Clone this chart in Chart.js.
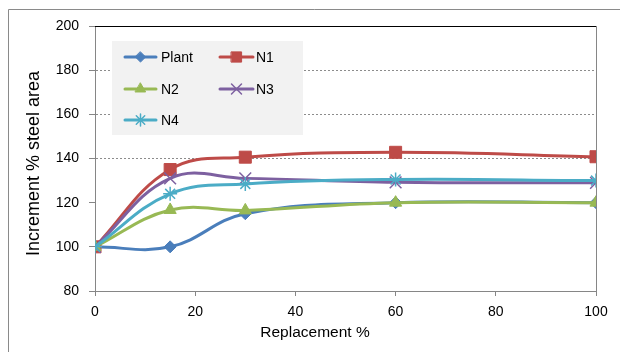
<!DOCTYPE html>
<html>
<head>
<meta charset="utf-8">
<script src="https://cdn.jsdelivr.net/npm/chart.js@4/dist/chart.umd.min.js"></script>
<style>
  html, body { margin: 0; padding: 0; background: #fff; }
  #wrap { position: relative; width: 620px; height: 352px; }
</style>
</head>
<body>
<div id="wrap"><canvas id="c" width="620" height="352"></canvas></div>
<script>
// Replacement level (%) on the x axis
const replacement = [0, 15, 30, 60, 100];

// Increment in steel area (%) for each mix
const plant = [100, 100, 115, 120, 120];
const n1 = [100, 135, 140.6, 142.8, 140.8];
const n2 = [100, 116.7, 116.5, 120, 120];
const n3 = [100, 131, 131, 129.2, 129];
const n4 = [100, 124, 128.5, 130.5, 130];

const seriesNames = ['Plant', 'N1', 'N2', 'N3', 'N4'];
const seriesValues = [plant, n1, n2, n3, n4];

const xTicks = [0, 20, 40, 60, 80, 100];
const yTicks = [80, 100, 120, 140, 160, 180, 200];
const xTitle = 'Replacement %';
const yTitle = 'Increment % steel area';

const FONT = '"Liberation Sans", Arial, sans-serif';
const AXIS_GREY = '#868686';

const styles = [
  { color: '#4a7ebb', point: 'rectRot', radius: 6, pbw: 1 },
  { color: '#be4b48', point: 'rect', radius: 8.5, pbw: 1 },
  { color: '#98b954', point: 'triangle', radius: 7, pbw: 1 },
  { color: '#7d60a0', point: 'crossRot', radius: 8.3, pbw: 1.5 },
  { color: '#4bacc6', point: 'star', radius: 7, pbw: 1.5 }
];

function drawMarker(ctx, style, r, x, y, color, bw) {
  ctx.save();
  ctx.fillStyle = color;
  ctx.strokeStyle = color;
  ctx.lineWidth = bw;
  ctx.beginPath();
  if (style === 'rectRot') {
    ctx.moveTo(x, y - r); ctx.lineTo(x + r, y); ctx.lineTo(x, y + r); ctx.lineTo(x - r, y);
    ctx.closePath(); ctx.fill(); ctx.stroke();
  } else if (style === 'rect') {
    const s = Math.SQRT1_2 * r;
    ctx.rect(x - s, y - s, 2 * s, 2 * s); ctx.fill(); ctx.stroke();
  } else if (style === 'triangle') {
    let a = 0;
    for (let i = 0; i < 3; i++) {
      const px = x + Math.sin(a) * r, py = y - Math.cos(a) * r;
      if (i === 0) ctx.moveTo(px, py); else ctx.lineTo(px, py);
      a += Math.PI * 2 / 3;
    }
    ctx.closePath(); ctx.fill(); ctx.stroke();
  } else {
    const d = Math.SQRT1_2 * r;
    ctx.moveTo(x - d, y - d); ctx.lineTo(x + d, y + d);
    ctx.moveTo(x - d, y + d); ctx.lineTo(x + d, y - d);
    if (style === 'star') {
      ctx.moveTo(x, y - r); ctx.lineTo(x, y + r);
      ctx.moveTo(x - r, y); ctx.lineTo(x + r, y);
    }
    ctx.stroke();
  }
  ctx.restore();
}

const datasets = seriesNames.map((name, i) => ({
  label: name,
  data: replacement.map((x, j) => ({ x: x, y: seriesValues[i][j] })),
  borderColor: styles[i].color,
  backgroundColor: styles[i].color,
  borderWidth: 3,
  tension: 0.4,
  borderCapStyle: 'round',
  borderJoinStyle: 'round',
  pointStyle: styles[i].point,
  pointRadius: styles[i].radius,
  pointBorderWidth: styles[i].pbw,
  pointBackgroundColor: styles[i].color,
  pointBorderColor: styles[i].color,
  order: seriesNames.length - i,
  fill: false
}));

// Frame, plot edges, legend box and axis titles
const decorations = {
  id: 'decorations',
  beforeDraw(chart) {
    const ctx = chart.ctx;
    ctx.save();
    ctx.fillStyle = '#fff';
    ctx.fillRect(0, 0, chart.width, chart.height);
    ctx.strokeStyle = '#8a8a8a';
    ctx.lineWidth = 1;
    ctx.beginPath();
    ctx.moveTo(8.5, chart.height);
    ctx.lineTo(8.5, 9.5);
    ctx.lineTo(chart.width, 9.5);
    ctx.stroke();
    ctx.restore();
  },
  beforeDatasetsDraw(chart) {
    const ctx = chart.ctx;
    const a = chart.chartArea;
    ctx.save();
    ctx.lineWidth = 1;
    ctx.strokeStyle = '#000';
    ctx.beginPath();
    ctx.moveTo(a.left, Math.round(a.top) + 0.5);
    ctx.lineTo(a.right, Math.round(a.top) + 0.5);
    ctx.stroke();
    ctx.strokeStyle = AXIS_GREY;
    ctx.beginPath();
    ctx.moveTo(Math.round(a.right) + 0.5, a.top);
    ctx.lineTo(Math.round(a.right) + 0.5, a.bottom);
    ctx.stroke();
    ctx.restore();
  },
  afterDraw(chart) {
    const ctx = chart.ctx;
    ctx.save();
    // legend panel
    ctx.fillStyle = '#f2f2f2';
    ctx.fillRect(112, 41, 191, 94);
    const cols = [{ l0: 125, l1: 156, tx: 161 }, { l0: 220, l1: 253, tx: 256 }];
    const rows = [57, 89, 120];
    ctx.font = '14px ' + FONT;
    ctx.textBaseline = 'middle';
    ctx.textAlign = 'left';
    seriesNames.forEach((name, i) => {
      const c = cols[i % 2], y = rows[Math.floor(i / 2)];
      const st = styles[i];
      ctx.strokeStyle = st.color;
      ctx.lineWidth = 3;
      ctx.lineCap = 'round';
      ctx.beginPath();
      ctx.moveTo(c.l0, y); ctx.lineTo(c.l1, y);
      ctx.stroke();
      drawMarker(ctx, st.point, st.radius * 0.85, (c.l0 + c.l1) / 2, y, st.color, st.pbw);
      ctx.fillStyle = '#000';
      ctx.fillText(name, c.tx, y + 1);
    });
    // axis titles
    ctx.fillStyle = '#000';
    ctx.textAlign = 'center';
    ctx.textBaseline = 'middle';
    ctx.font = '15.5px ' + FONT;
    ctx.fillText(xTitle, 315, 333);
    ctx.translate(34, 163.5);
    ctx.rotate(-Math.PI / 2);
    ctx.font = '18px ' + FONT;
    ctx.fillText(yTitle, 0, 0);
    ctx.restore();
  }
};

new Chart(document.getElementById('c'), {
  type: 'line',
  data: { datasets: datasets },
  plugins: [decorations],
  options: {
    responsive: false,
    devicePixelRatio: 1,
    animation: false,
    events: [],
    layout: { padding: { top: 26, right: 24, left: 0, bottom: 0 } },
    plugins: { legend: { display: false }, tooltip: { enabled: false } },
    scales: {
      x: {
        type: 'linear',
        min: xTicks[0],
        max: xTicks[xTicks.length - 1],
        afterBuildTicks(scale) { scale.ticks = xTicks.map(v => ({ value: v })); },
        afterFit(scale) { scale.height = 61; },
        ticks: { font: { family: FONT, size: 14 }, color: '#000', padding: 8, maxRotation: 0 },
        grid: { drawOnChartArea: false, tickLength: 5, tickColor: AXIS_GREY, color: AXIS_GREY },
        border: { color: AXIS_GREY, width: 1 }
      },
      y: {
        min: yTicks[0],
        max: yTicks[yTicks.length - 1],
        afterBuildTicks(scale) { scale.ticks = yTicks.map(v => ({ value: v })); },
        afterFit(scale) { scale.width = 95; },
        ticks: { font: { family: FONT, size: 14 }, color: '#000', padding: 10 },
        grid: {
          tickLength: 6,
          tickColor: AXIS_GREY,
          tickBorderDash: [],
          color: ctx => (ctx.tick && ctx.tick.value > 120 && ctx.tick.value < 200) ? '#8c8c8c' : 'rgba(0,0,0,0)'
        },
        border: { color: AXIS_GREY, width: 1, dash: [2, 2] }
      }
    }
  }
});
</script>
</body>
</html>
